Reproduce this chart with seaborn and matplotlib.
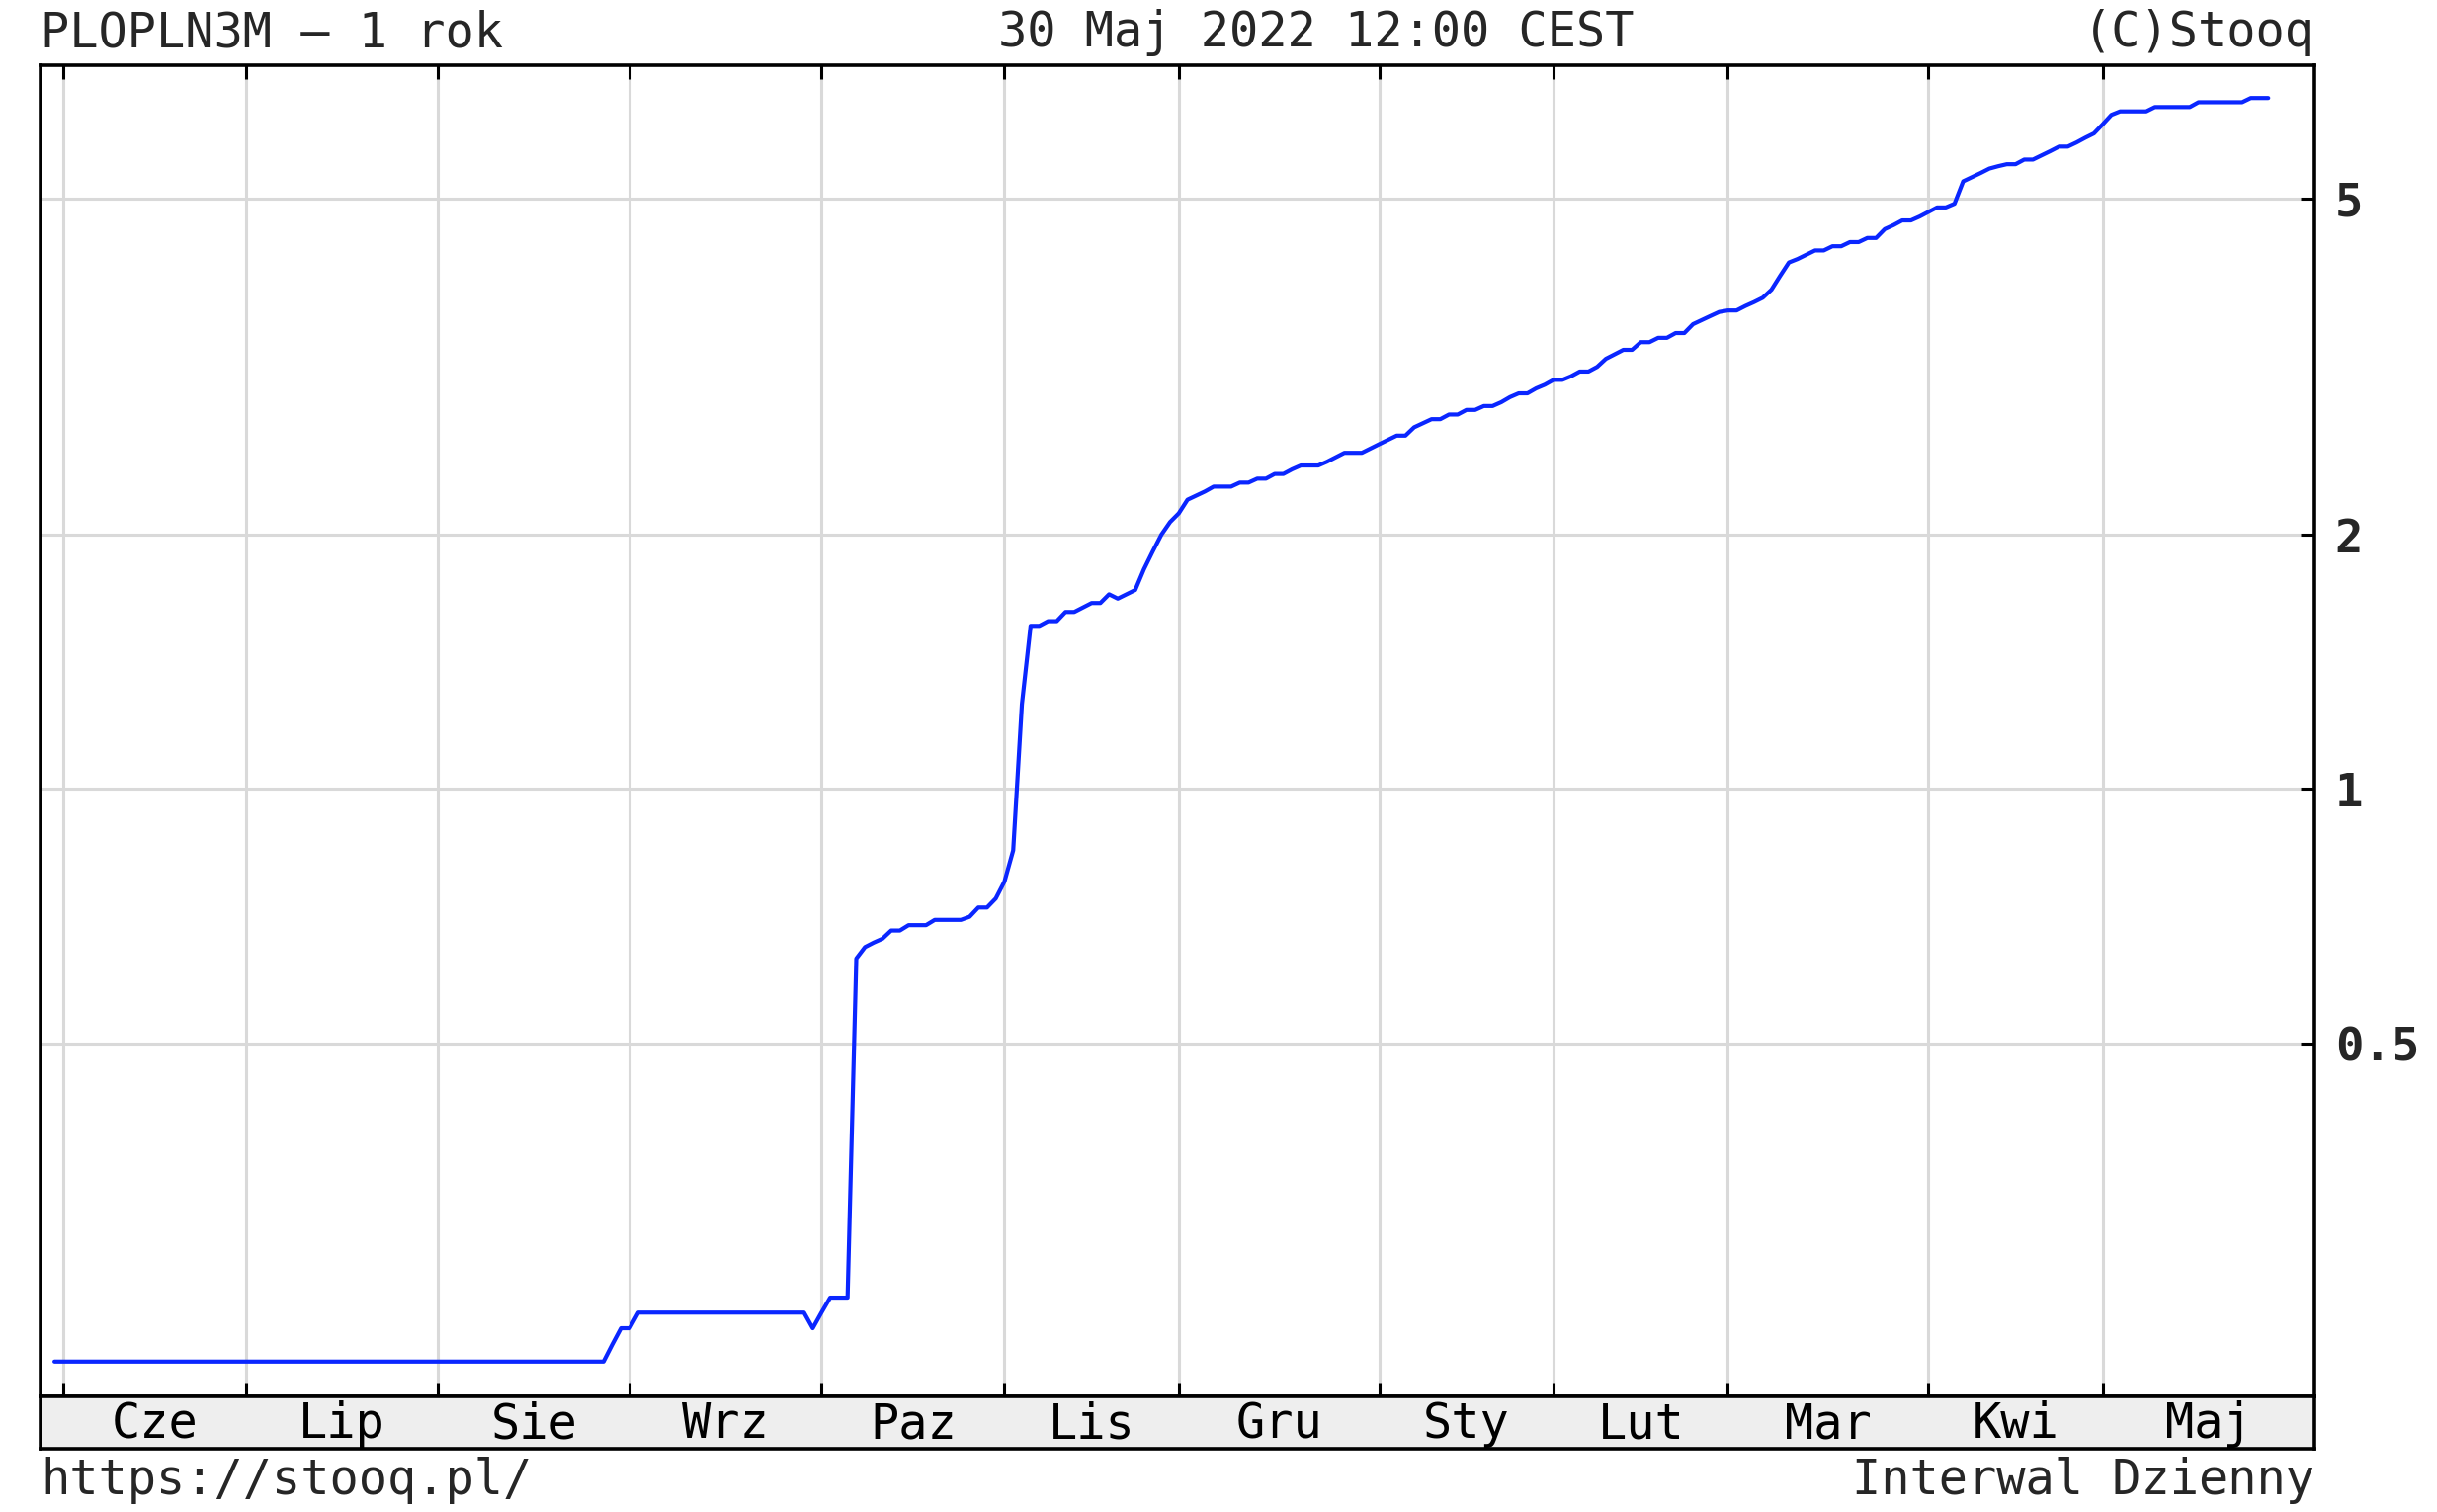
import numpy as np
import pandas as pd
import matplotlib
matplotlib.use("Agg")
import matplotlib.pyplot as plt
import seaborn as sns

# trading calendar (stooq draws one step per session)
start_day = "2021-05-31"
end_day = "2022-05-30"
holidays = ["2021-06-03", "2021-11-01", "2021-11-11",
            "2022-01-06", "2022-04-18", "2022-05-03"]

month_names = ["Cze", "Lip", "Sie", "Wrz", "Paz", "Lis",
               "Gru", "Sty", "Lut", "Mar", "Kwi", "Maj"]

# vertices of the PLOPLN3M line
dates = [
    "2021-05-31", "2021-08-27", "2021-08-30", "2021-08-31", "2021-09-01",
    "2021-09-02", "2021-09-29", "2021-09-30", "2021-10-01", "2021-10-04",
    "2021-10-06", "2021-10-07", "2021-10-08", "2021-10-11", "2021-10-12",
    "2021-10-13", "2021-10-14", "2021-10-15", "2021-10-19", "2021-10-20",
    "2021-10-25", "2021-10-26", "2021-10-27", "2021-10-28", "2021-10-29",
    "2021-11-02", "2021-11-03", "2021-11-04", "2021-11-05", "2021-11-08",
    "2021-11-09", "2021-11-10", "2021-11-12", "2021-11-15", "2021-11-16",
    "2021-11-17", "2021-11-18", "2021-11-19", "2021-11-22", "2021-11-23",
    "2021-11-24", "2021-11-25", "2021-11-26", "2021-11-29", "2021-11-30",
    "2021-12-01", "2021-12-02", "2021-12-03", "2021-12-06", "2021-12-07",
    "2021-12-09", "2021-12-10", "2021-12-13", "2021-12-14", "2021-12-15",
    "2021-12-16", "2021-12-17", "2021-12-20", "2021-12-21", "2021-12-23",
    "2021-12-24", "2021-12-27", "2021-12-28", "2021-12-30", "2021-12-31",
    "2022-01-03", "2022-01-04", "2022-01-05", "2022-01-07", "2022-01-10",
    "2022-01-11", "2022-01-12", "2022-01-13", "2022-01-14", "2022-01-17",
    "2022-01-18", "2022-01-19", "2022-01-20", "2022-01-21", "2022-01-24",
    "2022-01-25", "2022-01-26", "2022-01-27", "2022-01-28", "2022-01-31",
    "2022-02-01", "2022-02-02", "2022-02-03", "2022-02-04", "2022-02-07",
    "2022-02-08", "2022-02-09", "2022-02-10", "2022-02-11", "2022-02-14",
    "2022-02-15", "2022-02-16", "2022-02-17", "2022-02-18", "2022-02-21",
    "2022-02-22", "2022-02-23", "2022-02-24", "2022-02-25", "2022-02-28",
    "2022-03-01", "2022-03-02", "2022-03-03", "2022-03-04", "2022-03-07",
    "2022-03-08", "2022-03-09", "2022-03-10", "2022-03-11", "2022-03-14",
    "2022-03-15", "2022-03-16", "2022-03-17", "2022-03-18", "2022-03-21",
    "2022-03-22", "2022-03-23", "2022-03-24", "2022-03-25", "2022-03-28",
    "2022-03-29", "2022-03-30", "2022-03-31", "2022-04-01", "2022-04-04",
    "2022-04-05", "2022-04-06", "2022-04-07", "2022-04-08", "2022-04-11",
    "2022-04-12", "2022-04-13", "2022-04-14", "2022-04-15", "2022-04-19",
    "2022-04-20", "2022-04-21", "2022-04-22", "2022-04-25", "2022-04-26",
    "2022-04-27", "2022-04-28", "2022-04-29", "2022-05-02", "2022-05-04",
    "2022-05-05", "2022-05-10", "2022-05-11", "2022-05-17", "2022-05-18",
    "2022-05-25", "2022-05-26", "2022-05-30",
]
rates = [
    0.21, 0.21, 0.22, 0.23, 0.23,
    0.24, 0.24, 0.23, 0.24, 0.25,
    0.25, 0.63, 0.65, 0.658, 0.665,
    0.68, 0.68, 0.69, 0.69, 0.70,
    0.70, 0.706, 0.724, 0.724, 0.742,
    0.777, 0.846, 1.26, 1.56, 1.56,
    1.58, 1.58, 1.62, 1.62, 1.64,
    1.66, 1.66, 1.70, 1.68, 1.70,
    1.72, 1.82, 1.91, 2.00, 2.07,
    2.12, 2.20, 2.225, 2.25, 2.28,
    2.28, 2.305, 2.305, 2.33, 2.33,
    2.36, 2.36, 2.39, 2.415, 2.415,
    2.44, 2.47, 2.50, 2.50, 2.53,
    2.56, 2.59, 2.62, 2.62, 2.68,
    2.71, 2.74, 2.74, 2.775, 2.775,
    2.81, 2.81, 2.84, 2.84, 2.87,
    2.91, 2.94, 2.94, 2.98, 3.01,
    3.05, 3.05, 3.08, 3.12, 3.12,
    3.16, 3.23, 3.27, 3.31, 3.31,
    3.38, 3.38, 3.42, 3.42, 3.465,
    3.465, 3.55, 3.59, 3.63, 3.67,
    3.685, 3.685, 3.73, 3.77, 3.815,
    3.90, 4.05, 4.20, 4.24, 4.29,
    4.34, 4.34, 4.39, 4.39, 4.44,
    4.44, 4.49, 4.49, 4.60, 4.65,
    4.71, 4.71, 4.76, 4.82, 4.88,
    4.88, 4.93, 5.24, 5.30, 5.36,
    5.425, 5.46, 5.49, 5.49, 5.56,
    5.56, 5.625, 5.69, 5.76, 5.76,
    5.825, 5.90, 5.97, 6.12, 6.28,
    6.34, 6.34, 6.415, 6.415, 6.50,
    6.50, 6.575, 6.575,
]

y_ticks = [0.5, 1, 2, 5]
y_tick_labels = ["0.5", "1", "2", "5"]

sns.set_style("white")
plt.rcParams["font.family"] = ["DejaVu Sans Mono", "DejaVu Sans"]

W, H = 2466, 1530
fig = plt.figure(figsize=(W / 100, H / 100), dpi=100)
fig.patch.set_facecolor("white")

# pixel layout of the stooq frame
left, right, top, bottom, strip_bottom = 41, 2342, 66, 1413, 1466
ax = fig.add_axes([left / W, 1 - bottom / H, (right - left) / W, (bottom - top) / H])
strip = fig.add_axes([left / W, 1 - strip_bottom / H, (right - left) / W,
                      (strip_bottom - bottom) / H])

sessions = pd.bdate_range(start_day, end_day)
sessions = sessions[~sessions.isin(pd.to_datetime(holidays))]
pos = pd.Series(np.arange(len(sessions)), index=sessions)

df = pd.DataFrame({"date": pd.to_datetime(dates), "rate": rates})
df["x"] = pos.loc[df["date"]].values

sns.lineplot(data=df, x="x", y="rate", ax=ax, color="#0a26ff", linewidth=3.0,
             estimator=None, sort=False)

# first session of each month -> vertical grid
firsts = sessions.to_series().groupby(sessions.to_period("M")).first()
firsts = firsts[firsts.index > pd.Period("2021-05", "M")]
month_x = pos.loc[firsts.values].values

xlim = (-1.6, 259.3)
ax.set_yscale("log")
ax.set_xlim(xlim)
ax.set_ylim(0.191, 7.19)
ax.set_xticks(month_x)
ax.set_xticklabels([])
ax.set_yticks(y_ticks)
ax.set_yticklabels(y_tick_labels, fontweight="bold")
ax.yaxis.set_minor_locator(matplotlib.ticker.NullLocator())
ax.yaxis.tick_right()
ax.tick_params(axis="x", which="both", top=True, bottom=True, direction="in",
               length=10, width=2.2, color="black")
ax.tick_params(axis="y", which="major", right=True, left=False, direction="in",
               length=10, width=2.2, color="black", labelsize=34, pad=15)
ax.grid(True, color="#d9d9d9", linewidth=2.2)
ax.set_axisbelow(True)
ax.set_xlabel("")
ax.set_ylabel("")
for sp in ax.spines.values():
    sp.set_color("black")
    sp.set_linewidth(2.6)

# month strip
strip.set_facecolor("#eeeeee")
strip.set_xlim(xlim)
strip.set_ylim(0, 1)
strip.set_xticks([])
strip.set_yticks([])
for sp in strip.spines.values():
    sp.set_color("black")
    sp.set_linewidth(2.6)
edges = list(month_x) + [xlim[1]]
for i, name in enumerate(month_names):
    cx = (edges[i] + edges[i + 1]) / 2
    strip.text(cx, 0.47, name, ha="center", va="center", fontsize=35, color="black")

fs = 35
fig.text(left / W, 1 - 47 / H, "PLOPLN3M \u2013 1 rok", ha="left", va="baseline", fontsize=fs)
fig.text(1010 / W, 1 - 47 / H, "30 Maj 2022 12:00 CEST", ha="left", va="baseline", fontsize=fs)
fig.text(right / W, 1 - 47 / H, "(C)Stooq", ha="right", va="baseline", fontsize=fs)
fig.text(left / W, 1 - 1512 / H, "https://stooq.pl/", ha="left", va="baseline", fontsize=fs)
fig.text(right / W, 1 - 1512 / H, "Interwal Dzienny", ha="right", va="baseline", fontsize=fs)

fig.savefig("out.png", dpi=100, facecolor="white")
